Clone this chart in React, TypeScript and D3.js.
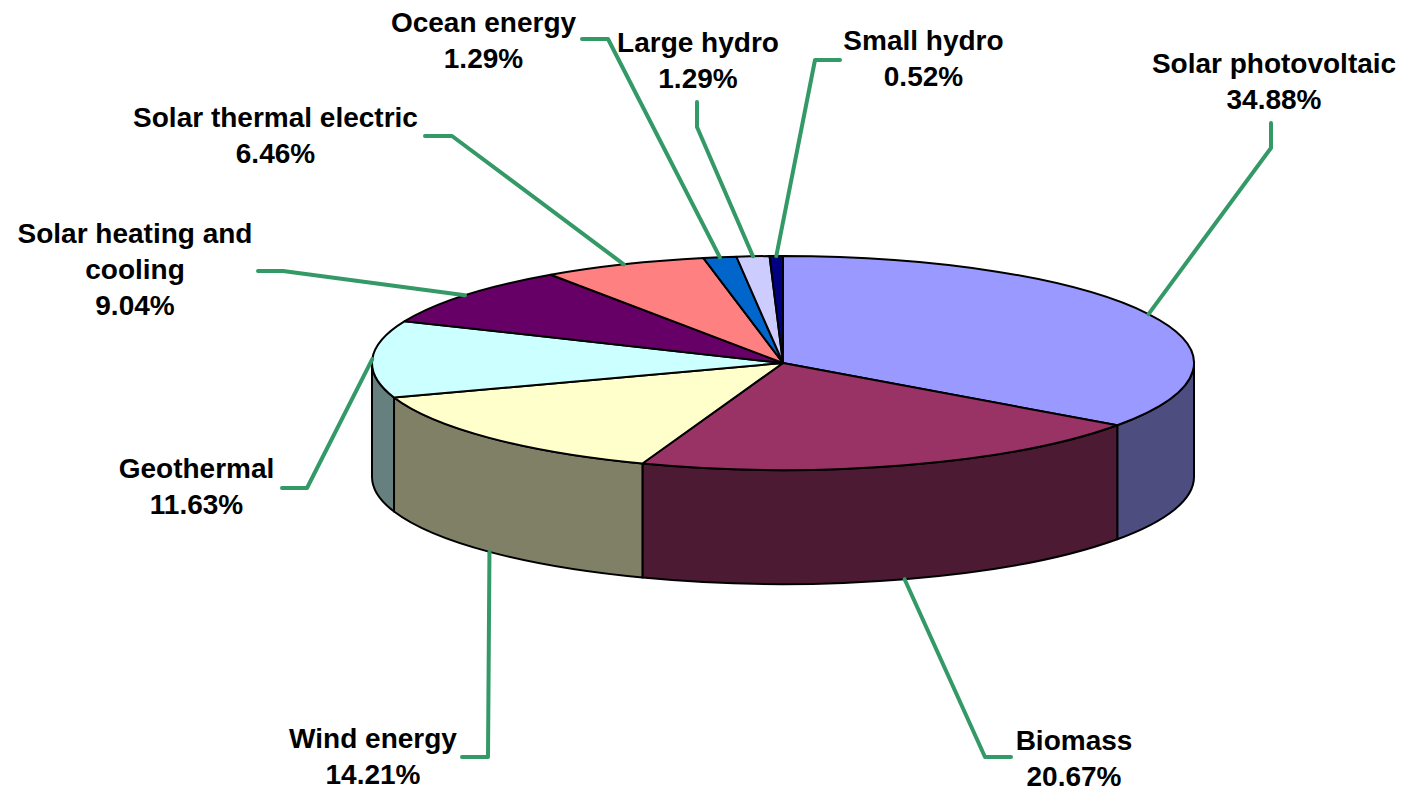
import React from "react";
import * as d3 from "d3";

const categories = [
  "Solar photovoltaic",
  "Biomass",
  "Wind energy",
  "Geothermal",
  "Solar heating and cooling",
  "Solar thermal electric",
  "Ocean energy",
  "Large hydro",
  "Small hydro",
];
const values = [34.88, 20.67, 14.21, 11.63, 9.04, 6.46, 1.29, 1.29, 0.52];
const colors = ["#9999FF", "#993366", "#FFFFCC", "#CCFFFF", "#660066", "#FF8080", "#0066CC", "#CCCCFF", "#000080"];
const labelLines = [
  ["Solar photovoltaic"],
  ["Biomass"],
  ["Wind energy"],
  ["Geothermal"],
  ["Solar heating and", "cooling"],
  ["Solar thermal electric"],
  ["Ocean energy"],
  ["Large hydro"],
  ["Small hydro"],
];

// layout (label anchor, leader knee, leader end)
const layout = [
  { lx: 1274, ly: 73, knee: [1271, 148], end: [1271, 123] },
  { lx: 1074, ly: 750, knee: [985, 757], end: [1011, 757] },
  { lx: 373, ly: 748, knee: [488, 757], end: [462, 757] },
  { lx: 196.5, ly: 478, knee: [307, 488], end: [282, 488] },
  { lx: 135, ly: 243, knee: [283, 271], end: [258, 271] },
  { lx: 275.5, ly: 127, knee: [452, 136], end: [425, 136] },
  { lx: 483.5, ly: 32, knee: [608, 39], end: [582, 39] },
  { lx: 698, ly: 52, knee: [697, 127], end: [697, 102] },
  { lx: 923.5, ly: 50, knee: [815, 60], end: [840, 60] },
];

const W = 1405, H = 792;
const cx = 783, cy = 363, rx = 411, ry = 107, depth = 114;
const lineGap = 36;

function pt(a: number, dy = 0): [number, number] {
  return [cx + rx * Math.sin(a), cy - ry * Math.cos(a) + dy];
}

function darker(c: string) {
  const col = d3.rgb(c);
  return d3.rgb(col.r / 2, col.g / 2, col.b / 2).toString();
}

export default function App() {
  const pie = d3.pie<number>().sort(null).value((d) => d).startAngle(0).endAngle(2 * Math.PI);
  const arcs = pie(values);
  const fmt = (v: number) => v.toFixed(2) + "%";

  const walls: JSX.Element[] = [];
  const tops: JSX.Element[] = [];
  const leaders: JSX.Element[] = [];
  const labels: JSX.Element[] = [];

  arcs.forEach((a, i) => {
    const a0 = a.startAngle, a1 = a.endAngle;
    // top face
    const p0 = pt(a0), p1 = pt(a1);
    const large = a1 - a0 > Math.PI ? 1 : 0;
    const topD = `M${cx},${cy}L${p0[0]},${p0[1]}A${rx},${ry} 0 ${large} 1 ${p1[0]},${p1[1]}Z`;
    tops.push(<path key={"t" + i} d={topD} fill={colors[i]} stroke="#000" strokeWidth={2} strokeLinejoin="round" />);
    // wall
    const s = Math.max(a0, Math.PI / 2), e = Math.min(a1, (3 * Math.PI) / 2);
    if (e > s) {
      const q0 = pt(s), q1 = pt(e), q1b = pt(e, depth), q0b = pt(s, depth);
      const wd = `M${q0[0]},${q0[1]}A${rx},${ry} 0 0 1 ${q1[0]},${q1[1]}L${q1b[0]},${q1b[1]}A${rx},${ry} 0 0 0 ${q0b[0]},${q0b[1]}Z`;
      walls.push(<path key={"w" + i} d={wd} fill={darker(colors[i])} stroke="#000" strokeWidth={2} strokeLinejoin="round" />);
    }
    // leader
    const mid = (a0 + a1) / 2;
    const front = mid > Math.PI / 2 && mid < (3 * Math.PI) / 2;
    const st = pt(mid, front ? depth : 0);
    const L = layout[i];
    leaders.push(
      <polyline
        key={"l" + i}
        points={`${st[0]},${st[1]} ${L.knee[0]},${L.knee[1]} ${L.end[0]},${L.end[1]}`}
        fill="none"
        stroke="#339966"
        strokeWidth={4}
        strokeLinecap="round"
        strokeLinejoin="round"
      />
    );
    const lines = [...labelLines[i], fmt(values[i])];
    labels.push(
      <text key={"x" + i} x={L.lx} y={L.ly} textAnchor="middle" fontFamily="'Liberation Sans', Arial, sans-serif" fontWeight="bold" fontSize={28} fill="#000">
        {lines.map((t, k) => (
          <tspan key={k} x={L.lx} y={L.ly + k * lineGap}>{t}</tspan>
        ))}
      </text>
    );
  });

  return (
    <svg width={W} height={H} style={{ position: "absolute", left: 0, top: 0, background: "#fff" }}>
      <rect width={W} height={H} fill="#fff" />
      <g>{walls}</g>
      <g>{tops}</g>
      <g>{leaders}</g>
      <g>{labels}</g>
    </svg>
  );
}
